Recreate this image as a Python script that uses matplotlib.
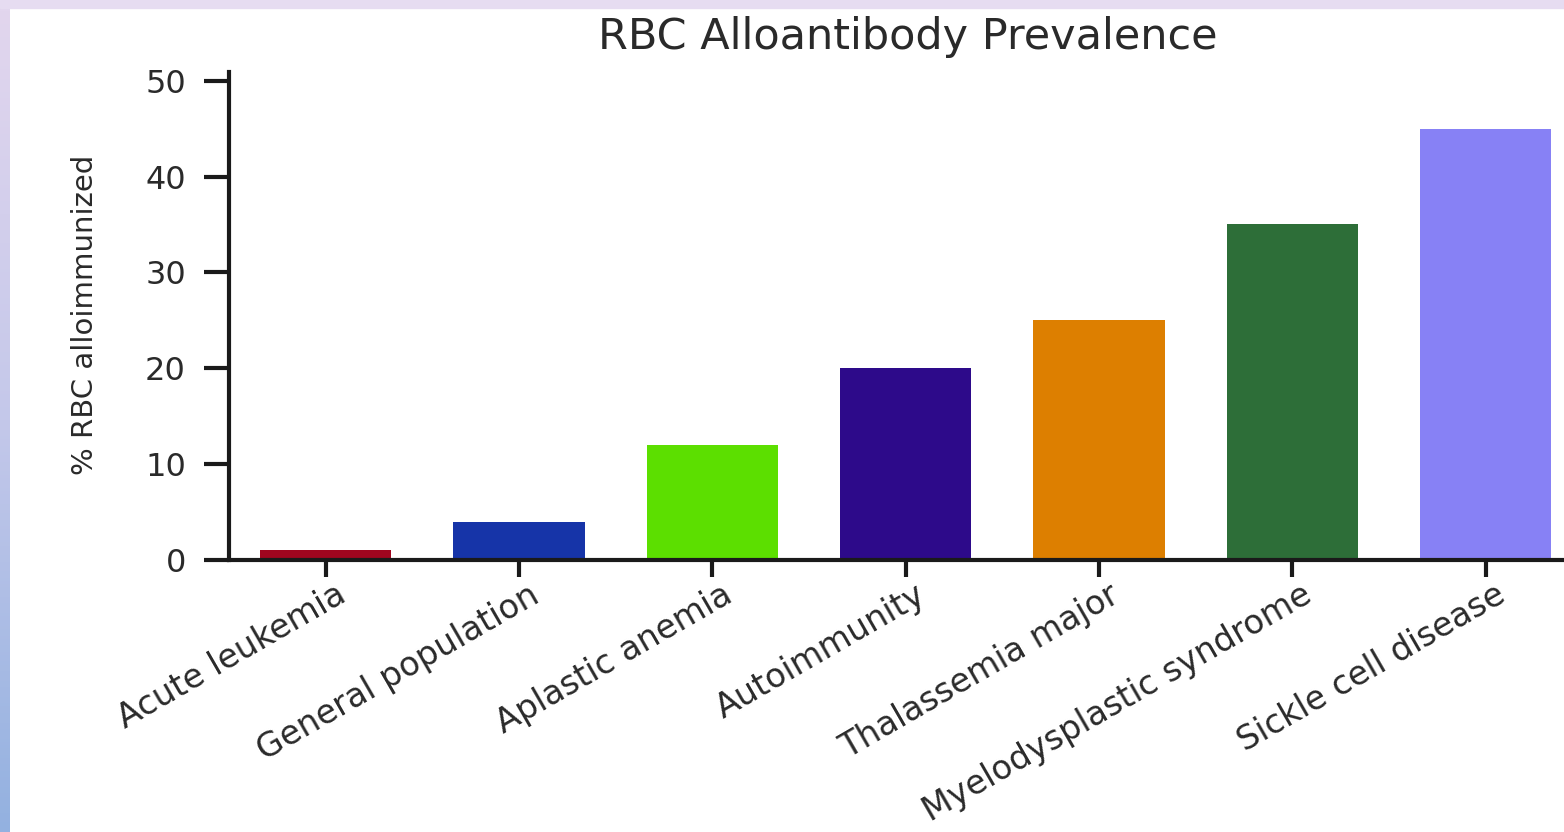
import numpy as np
import matplotlib
matplotlib.use("Agg")
import matplotlib.pyplot as plt
import matplotlib.transforms as mtransforms
from matplotlib.colors import LinearSegmentedColormap

categories = ["Acute leukemia", "General population", "Aplastic anemia", "Autoimmunity",
              "Thalassemia major", "Myelodysplastic syndrome", "Sickle cell disease"]
prevalence = [1, 4, 12, 20, 25, 35, 45]
bar_colors = ["#a0061f", "#1634a8", "#5cdf00", "#2d0a8a", "#dd7f00", "#2d6e38", "#8781f5"]
yticks = [0, 10, 20, 30, 40, 50]

W, H = 1564, 832
fig = plt.figure(figsize=(W / 100, H / 100), dpi=100, facecolor="white")

# decorative slide border: lavender strip on top, lavender->blue strip on the left
top_px, left_px = 8, 10
fig.patches.append(plt.Rectangle((0, 1 - top_px / H), 1, top_px / H, transform=fig.transFigure,
                                 color="#e6dcf1", zorder=0))
bg = fig.add_axes([0, 0, left_px / W, 1 - top_px / H], zorder=0)
cmap = LinearSegmentedColormap.from_list("edge", ["#e2d6ee", "#c4c8ea", "#93b1e0"])
bg.imshow(np.linspace(0, 1, 256)[:, None], aspect="auto", cmap=cmap)
bg.axis("off")

font = ["DejaVu Sans"]
ink = "#2a2a2a"

# plot area: y axis at x=229px, baseline at y=560px, spine top at y=72px
x0, y0, y1 = 229, 560, 72
step = 193.33
ax = fig.add_axes([x0 / W, (H - y0) / H, 7 * step / W, (y0 - y1) / H])
x = np.arange(len(categories))
ax.bar(x, prevalence, width=0.68, color=bar_colors, zorder=2)

ax.set_xlim(-0.5, 6.5)
ax.set_ylim(0, 50.9)
ax.tick_params(axis="y", length=18, width=3, pad=13, color="#1a1a1a")
ax.tick_params(axis="x", length=12, width=3, pad=4, color="#1a1a1a")
ax.set_yticks(yticks)
ax.set_yticklabels([str(v) for v in yticks], family=font, fontsize=23, color=ink)
ax.set_xticks(x)
ax.set_xticklabels(categories, family=font, fontsize=24, color=ink, rotation=30,
                   ha="right", va="top", rotation_mode="anchor")
# labels end a little right of their ticks, as in the reference
shift = mtransforms.ScaledTranslation(9 / 100, 4 / 100, fig.dpi_scale_trans)
for lab in ax.get_xticklabels():
    lab.set_transform(lab.get_transform() + shift)
for s in ("top", "right"):
    ax.spines[s].set_visible(False)
for s in ("left", "bottom"):
    ax.spines[s].set_linewidth(3)
    ax.spines[s].set_color("#1a1a1a")
ax.patch.set_alpha(0)

ax.set_ylabel("% RBC alloimmunized", family=["DejaVu Sans"], fontsize=21, color=ink)
ax.yaxis.set_label_coords(99 / W, 1 - 315 / H, transform=fig.transFigure)

fig.text(908 / W, 1 - 37 / H, "RBC Alloantibody Prevalence", family=font, fontsize=31,
         color=ink, ha="center", va="center")

fig.savefig("out.png", dpi=100, facecolor="white")
